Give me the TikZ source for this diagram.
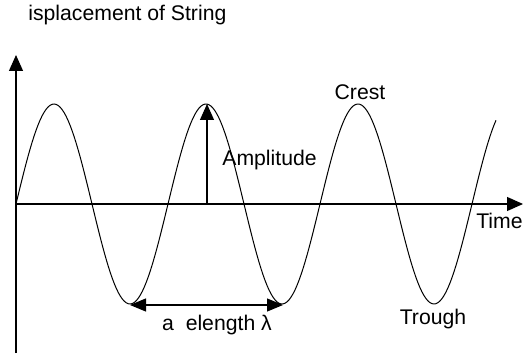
\documentclass[tikz,border=0pt]{standalone}
\usepackage{fontspec}
\setmainfont{Liberation Sans}
\usetikzlibrary{arrows.meta}

\begin{document}
\begin{tikzpicture}[x=0.5pt,y=0.5pt]
  \tikzstyle{ax}=[-{Triangle[length=8pt,width=7pt]},line width=0.6pt]
  \tikzstyle{both}=[{Triangle[length=8pt,width=6.5pt]}-{Triangle[length=8pt,width=6.5pt]},line width=0.6pt]
  \tikzstyle{wave}=[line width=0.5pt]
  \tikzstyle{lbl}=[inner sep=0pt,font=\fontsize{10.6}{12}\selectfont]
  \useasboundingbox (-16,-149) rectangle (507,204);

  \coordinate (o) at (0,0);
  \coordinate (ytop) at (0,149);
  \coordinate (ybot) at (0,-149);
  \coordinate (xend) at (507,0);
  \coordinate (crest) at (191,100);
  \coordinate (foot) at (191,0);
  \coordinate (tr1) at (114,-101);
  \coordinate (tr2) at (267,-101);

  \draw[ax] (ybot) -- (ytop);
  \draw[ax] (o) -- (xend);
  % period of 152 units
  \draw[wave] plot[domain=0:480,samples=240] (\x,{100*sin(2.368421*\x)});
  \draw[ax] (foot) -- (crest);
  \draw[both] (tr1) -- (tr2);

  \node[lbl,anchor=west] (title) at (12,189) {isplacement of String};
  \node[lbl] (crestlbl) at (344,112) {Crest};
  \node[lbl,anchor=west] (amplbl) at (206,44) {Amplitude};
  \node[lbl,anchor=east] (timelbl) at (507,-17) {Time};
  \node[lbl] (troughlbl) at (417,-115) {Trough};
  \node[lbl] (wavelbl) at (201,-121) {a~~elength λ};
\end{tikzpicture}
\end{document}
